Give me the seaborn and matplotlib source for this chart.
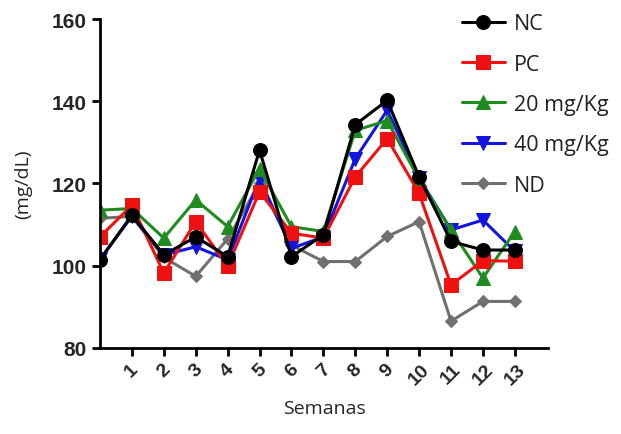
import matplotlib
matplotlib.use("Agg")
import matplotlib.pyplot as plt
import pandas as pd
import seaborn as sns

# weeks 0..13 (week 0 is baseline, no tick label)
semanas = list(range(14))
grupos = ['NC', 'PC', '20 mg/Kg', '40 mg/Kg', 'ND']

nc = [101.4, 112.3, 102.6, 107.0, 102.2, 128.1, 102.2, 107.5, 134.3, 140.2, 121.6, 105.9, 103.8, 103.8]
pc = [107.0, 114.7, 98.2, 110.7, 99.9, 118.0, 107.9, 106.7, 121.6, 130.9, 117.6, 95.3, 101.2, 101.1]
mg20 = [113.5, 113.9, 106.7, 116.0, 109.5, 123.6, 109.5, 108.3, 132.9, 135.3, 121.0, 108.7, 97.0, 108.3]
mg40 = [101.6, 112.0, 102.6, 104.6, 101.4, 121.2, 104.2, 107.0, 126.0, 137.8, 121.3, 108.7, 111.1, 103.5]
nd = [111.5, 112.0, 102.0, 97.4, 106.5, 120.0, 105.0, 101.0, 101.0, 107.1, 110.7, 86.5, 91.3, 91.3]

valores = [nc, pc, mg20, mg40, nd]
rows = []
for g, vals in zip(grupos, valores):
    for s, v in zip(semanas, vals):
        rows.append({'semana': s, 'valor': v, 'grupo': g})
df = pd.DataFrame(rows)

colores = {'NC': 'black', 'PC': '#ee1111', '20 mg/Kg': '#1e8c1e', '40 mg/Kg': '#1414e0', 'ND': '#707070'}
marcadores = {'NC': 'o', 'PC': 's', '20 mg/Kg': '^', '40 mg/Kg': 'v', 'ND': 'D'}
tamanos = {'NC': 10, 'PC': 10, '20 mg/Kg': 10, '40 mg/Kg': 10, 'ND': 6}

sns.set_style('ticks')
plt.rcParams['font.family'] = ['Liberation Sans', 'DejaVu Sans']

fig = plt.figure(figsize=(6.21, 4.35), dpi=100)
ax = fig.add_axes([0.161, 0.198, 0.722, 0.756])

# draw in reverse so NC sits on top
for g in grupos[::-1]:
    sub = df[df['grupo'] == g]
    sns.lineplot(data=sub, x='semana', y='valor', ax=ax, color=colores[g],
                 marker=marcadores[g], markersize=tamanos[g], markeredgecolor=colores[g],
                 linewidth=2.2, label=g, legend=False)

ax.set_xlim(0, 14.05)
ax.set_ylim(80, 160)
ax.set_yticks([80, 100, 120, 140, 160])
ax.set_xticks(range(1, 14))
ax.set_xticklabels([str(i) for i in range(1, 14)], rotation=45, ha='center',
                   fontsize=14, fontweight='bold')
for t in ax.get_yticklabels():
    t.set_fontsize(15)
    t.set_fontweight('bold')
ax.tick_params(axis='both', direction='out', length=6, width=2, color='black')
ax.tick_params(axis='x', pad=3)
for s in ['left', 'bottom']:
    ax.spines[s].set_linewidth(2)
    ax.spines[s].set_color('black')
sns.despine(ax=ax)

ax.set_xlabel('Semanas', fontsize=14, family='Open Sans', labelpad=8)
ax.set_ylabel('(mg/dL)', fontsize=14, family='Open Sans', labelpad=14)

handles, labels = ax.get_legend_handles_labels()
orden = [labels.index(g) for g in grupos]
fig.legend([handles[i] for i in orden], grupos, loc='upper left',
           bbox_to_anchor=(0.712, 1.012), frameon=False,
           prop={'family': 'Open Sans', 'size': 15.5}, labelspacing=0.9,
           handlelength=2.0, handletextpad=0.45, labelcolor='#222222')

fig.savefig('out.png', dpi=100)
